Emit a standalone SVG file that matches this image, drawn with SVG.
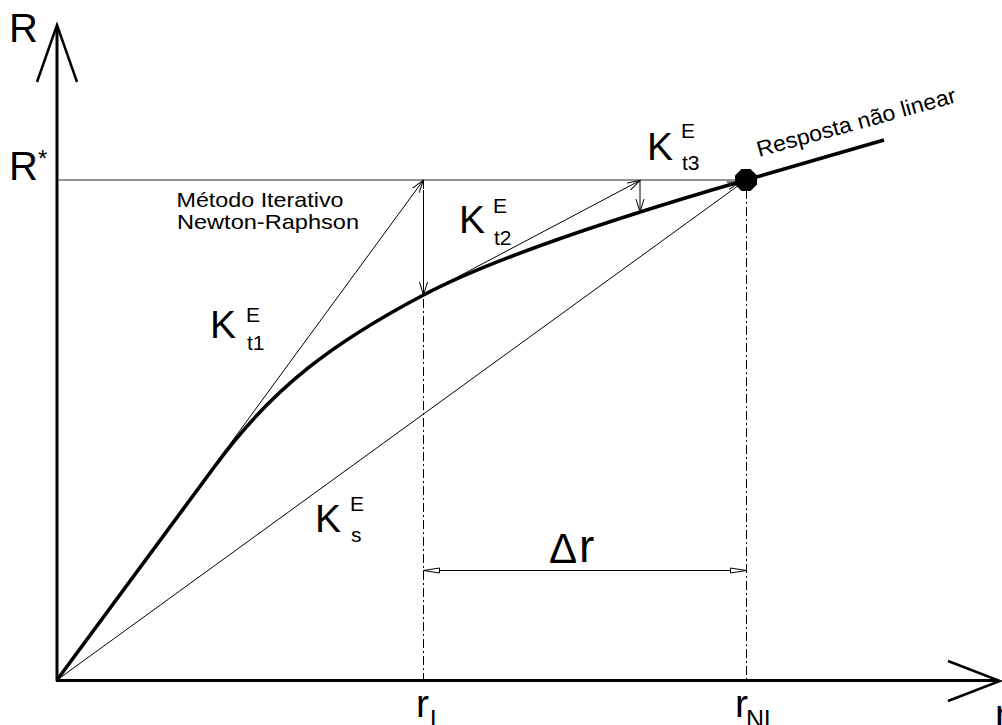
<svg xmlns="http://www.w3.org/2000/svg" width="1002" height="725" viewBox="0 0 1002 725">
<defs>
<style>
.t{font-family:"Liberation Sans",Arial,sans-serif;fill:#000}
.big{font-size:39px}
.sm{font-size:21px}
.thin{stroke:#000;stroke-width:1;fill:none}
.dd{stroke:#000;stroke-width:1;fill:none;stroke-dasharray:9,3,2,3}
.axis{stroke:#000;stroke-width:3;fill:none}
</style>
<marker id="v" markerUnits="userSpaceOnUse" markerWidth="14" markerHeight="10" refX="13" refY="4.5" orient="auto">
<path d="M0,0.5 L13,4.5 L0,8.5" fill="none" stroke="#000" stroke-width="1"/>
</marker>
<marker id="tri" markerUnits="userSpaceOnUse" markerWidth="18" markerHeight="8" refX="17" refY="3.5" orient="auto-start-reverse">
<path d="M1,1 L17,3.5 L1,6 Z" fill="#fff" stroke="#000" stroke-width="1"/>
</marker>
</defs>
<rect width="1002" height="725" fill="#fff"/>

<g id="axes">
<line class="axis" x1="57" y1="681" x2="57" y2="26"/>
<polyline points="37,82 57,25 77,82" fill="none" stroke="#000" stroke-width="2.5"/>
<line class="axis" x1="56" y1="680.5" x2="999" y2="680.5"/>
<polyline points="948,661 1000,681 948,701" fill="none" stroke="#000" stroke-width="2.5"/>
</g>

<g id="guides">
<line x1="58" y1="180" x2="746" y2="180" stroke="#6e6e6e" stroke-width="1.3"/>
<line class="dd" x1="423.5" y1="180" x2="423.5" y2="680"/>
<line class="dd" x1="746.5" y1="190" x2="746.5" y2="680"/>
</g>

<g id="connectors">
<line class="thin" x1="57" y1="680" x2="746" y2="180"/>
<line class="thin" x1="57" y1="680" x2="423.5" y2="180" marker-end="url(#v)"/>
<line class="thin" x1="423.5" y1="190" x2="423.5" y2="295" marker-end="url(#v)"/>
<line class="thin" x1="423.5" y1="295" x2="640" y2="180.5" marker-end="url(#v)"/>
<line class="thin" x1="640" y1="180.5" x2="640" y2="212" marker-end="url(#v)"/>
<line class="thin" x1="640" y1="212" x2="740" y2="182" marker-end="url(#v)"/>
<line class="thin" x1="423.5" y1="570.5" x2="746.5" y2="570.5" marker-start="url(#tri)" marker-end="url(#tri)"/>
</g>

<g id="curve">
<path d="M57,680 L215,466 C273,386.6 335.1,341.6 423.5,295 Q513.9,247.3 746,180 L884,140" fill="none" stroke="#000" stroke-width="3.6" stroke-linejoin="round"/>
<polygon points="741.5,169 750.5,169 757,175.5 757,184.5 750.5,191 741.5,191 735,184.5 735,175.5" fill="#000"/>
</g>

<g id="label-R"><text class="t" x="9" y="42" font-size="40">R</text></g>
<g id="label-Rstar"><text class="t" x="9" y="180" font-size="40">R</text><text class="t" x="38" y="167" font-size="24">*</text></g>

<g id="label-method">
<text class="t" x="176.5" y="206.5" font-size="21" textLength="167" lengthAdjust="spacingAndGlyphs">Método Iterativo</text>
<text class="t" x="177" y="228.5" font-size="21" textLength="182" lengthAdjust="spacingAndGlyphs">Newton-Raphson</text>
</g>

<g id="label-Kt1"><text class="t big" x="210" y="338">K</text><text class="t sm" x="246" y="322">E</text><text class="t sm" x="247" y="350">t1</text></g>
<g id="label-Kt2"><text class="t big" x="459" y="233">K</text><text class="t sm" x="493" y="213">E</text><text class="t sm" x="494" y="245">t2</text></g>
<g id="label-Kt3"><text class="t big" x="647" y="160">K</text><text class="t sm" x="681" y="138">E</text><text class="t sm" x="682" y="170">t3</text></g>
<g id="label-Ks"><text class="t big" x="315" y="532">K</text><text class="t sm" x="350" y="511">E</text><text class="t sm" x="351" y="542">s</text></g>

<g id="label-resp"><text class="t" x="759" y="157" font-size="22" textLength="206" lengthAdjust="spacingAndGlyphs" transform="rotate(-15.5 759 157)">Resposta não linear</text></g>

<g id="label-dr"><text class="t" x="549" y="563" font-size="42">Δ</text><text class="t" x="579" y="562" font-size="46">r</text></g>

<g id="label-rL"><text class="t big" x="416" y="717">r</text><text class="t" x="430" y="728" font-size="25">L</text></g>
<g id="label-rNL"><text class="t big" x="735" y="717">r</text><text class="t" x="746" y="728" font-size="25">NL</text></g>
<g id="label-r"><text class="t big" x="995" y="727">r</text></g>
</svg>
